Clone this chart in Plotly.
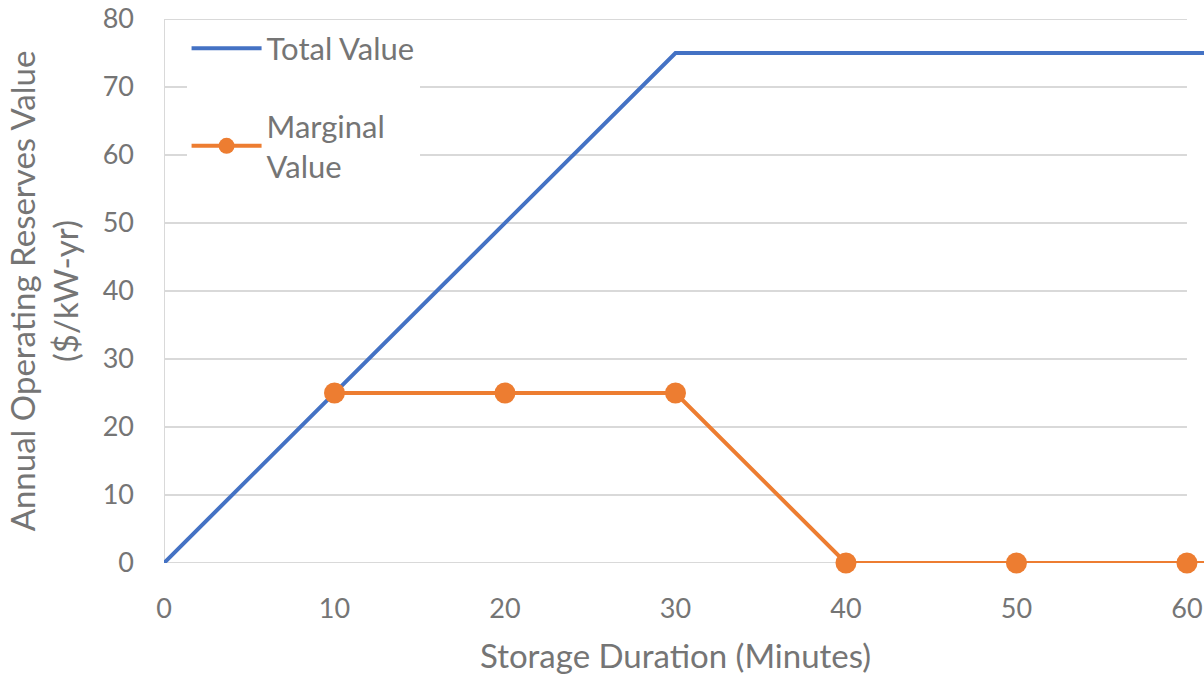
import plotly.graph_objects as go

duration = [0, 10, 20, 30, 40, 50, 60, 70]
total_value = [0, 25, 50, 75, 75, 75, 75, 75]
marg_x = [10, 20, 30, 40, 50, 60, 70]
marginal_value = [25, 25, 25, 0, 0, 0, 0]
y_ticks = [0, 10, 20, 30, 40, 50, 60, 70, 80]
x_ticks = [0, 10, 20, 30, 40, 50, 60]

FONT = "Lato"
GRAY = "#757575"
GRID = "#d9d9d9"

fig = go.Figure()
fig.add_trace(go.Scatter(x=duration, y=total_value, mode="lines", name="Total Value",
                         line=dict(color="#4472C4", width=4), legendgroup="a", cliponaxis=False))
fig.add_trace(go.Scatter(x=marg_x, y=marginal_value, mode="lines+markers", name="Marginal<br>Value",
                         line=dict(color="#ED7D31", width=4), cliponaxis=False,
                         marker=dict(size=21, color="#ED7D31"), legendgroup="b"))

shapes = []
for yv in y_ticks[1:]:
    shapes.append(dict(type="line", xref="x", yref="y", x0=0, x1=60, y0=yv, y1=yv,
                       line=dict(color=GRID, width=2), layer="below"))
shapes.append(dict(type="line", xref="x", yref="y", x0=0, x1=0, y0=0, y1=80,
                   line=dict(color=GRID, width=2), layer="below"))
shapes.append(dict(type="line", xref="x", yref="y", x0=0, x1=60, y0=0, y1=0,
                   line=dict(color=GRID, width=2), layer="below"))

fig.update_layout(
    width=1204, height=675,
    margin=dict(l=164, r=0, t=19, b=112, autoexpand=False),
    paper_bgcolor="white", plot_bgcolor="white",
    font=dict(family=FONT, color=GRAY, size=27),
    shapes=shapes,
    showlegend=True,
    legend=dict(x=0.0217, y=0.995, xanchor="left", yanchor="top",
                bgcolor="white", font=dict(size=31, color=GRAY),
                itemwidth=70, traceorder="grouped", tracegroupgap=34),
    annotations=[dict(text="Storage Duration (Minutes)", xref="x", yref="paper",
                      x=30, y=0, yshift=-92, xanchor="center", yanchor="middle",
                      showarrow=False, font=dict(size=33, color=GRAY))],
    xaxis=dict(range=[0, 61.0], tickvals=x_ticks, showgrid=False, zeroline=False,
               showline=False, ticks="", ticklabelstandoff=27, automargin=False,
               ticklabeloverflow="allow"),
    yaxis=dict(range=[0, 80], tickvals=y_ticks, showgrid=False, zeroline=False,
               showline=False, ticks="", ticklabelstandoff=29, automargin=False,
               ticklabeloverflow="allow",
               title=dict(text="Annual Operating Reserves Value<br>($/kW-yr)",
                          font=dict(size=33, color=GRAY), standoff=14)),
)

fig.write_html("out.html", config={"displayModeBar": False},
               post_script="document.body.style.margin='0';document.body.style.overflow='hidden';")
